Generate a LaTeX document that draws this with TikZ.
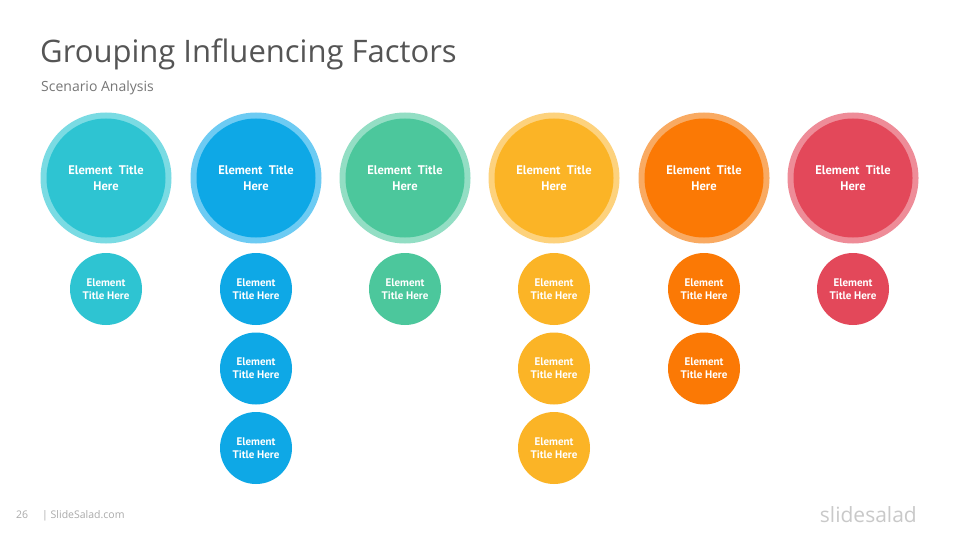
\documentclass[tikz,border=0pt]{standalone}
\usepackage{fontspec}
\setmainfont{Open Sans}
\newfontfamily\labelfont{PT Sans}
\usetikzlibrary{positioning}

\definecolor{titlegray}{HTML}{555555}
\definecolor{subgray}{HTML}{777777}
\definecolor{footgray}{HTML}{AAAAAA}
\definecolor{logogray}{HTML}{C9C9C9}
\definecolor{col1}{HTML}{2EC4D2}\definecolor{ring1}{HTML}{7ADBE3}
\definecolor{col2}{HTML}{0EA8E6}\definecolor{ring2}{HTML}{6DCBF3}
\definecolor{col3}{HTML}{4CC79C}\definecolor{ring3}{HTML}{93DEC4}
\definecolor{col4}{HTML}{FBB426}\definecolor{ring4}{HTML}{FDD27D}
\definecolor{col5}{HTML}{FB7905}\definecolor{ring5}{HTML}{F9AA62}
\definecolor{col6}{HTML}{E3485A}\definecolor{ring6}{HTML}{EE8C98}

\tikzset{
  ringdisc/.style={circle, minimum size=131pt, inner sep=0pt, outer sep=0pt},
  bigdisc/.style={circle, minimum size=119pt, inner sep=0pt, outer sep=0pt,
    text=white, align=center, font=\labelfont\bfseries\fontsize{12.5}{16}\selectfont},
  smalldisc/.style={circle, minimum size=72pt, inner sep=0pt, outer sep=0pt,
    text=white, align=center, font=\labelfont\bfseries\fontsize{11}{13}\selectfont},
}

\begin{document}
\begin{tikzpicture}[x=1pt,y=-1pt]
  \useasboundingbox[fill=white] (0,0) rectangle (960,540);

  % heading
  \node[anchor=base west, inner sep=0pt, text=titlegray,
    font=\fontsize{31}{36}\selectfont] (title) at (40,62.5) {Grouping Influencing Factors};
  \node[anchor=base west, inner sep=0pt, text=subgray,
    font=\fontsize{14}{17}\selectfont] (subtitle) at (41,91.5) {Scenario Analysis};

  % columns
  \foreach \i/\n/\x in {1/1/106, 2/3/256, 3/1/405, 4/3/554, 5/2/704, 6/1/853}{
    \node[ringdisc, fill=ring\i] (ring\i) at (\x,178) {};
    \node[bigdisc, fill=col\i] (big\i) at (ring\i) {Element\enspace Title\\Here};
    \foreach \j in {1,...,\n}{
      \node[smalldisc, fill=col\i] (sub\i-\j) at (\x,{289+(\j-1)*79.5}) {Element\\Title Here};
    }
  }

  % footer
  \node[anchor=base west, inner sep=0pt, text=footgray,
    font=\fontsize{10.5}{12}\selectfont] (page) at (16,518) {26};
  \node[anchor=base west, inner sep=0pt, text=footgray,
    font=\fontsize{10.5}{12}\selectfont] (site) at (42,518) {| SlideSalad.com};
  \node[anchor=base east, inner sep=0pt, text=logogray,
    font=\fontsize{21}{24}\selectfont] (logo) at (917,522) {slidesalad};
\end{tikzpicture}
\end{document}
